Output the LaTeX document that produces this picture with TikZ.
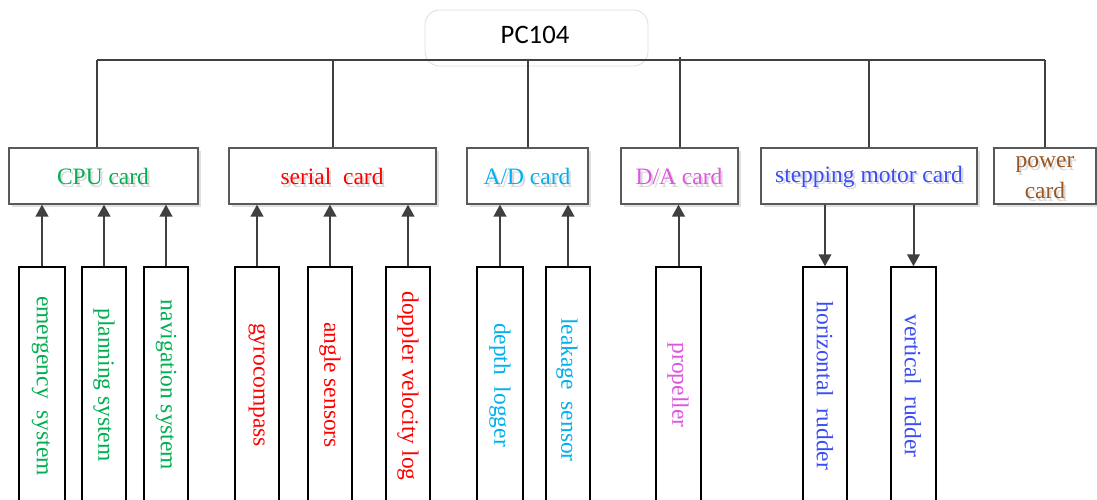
\documentclass[tikz,border=0pt]{standalone}
\usepackage{fontspec}
\setmainfont{Liberation Serif}
\newfontfamily\pcfont{Carlito}
\usetikzlibrary{fit,shadows,arrows.meta}
\definecolor{cgreen}{HTML}{00B050}
\definecolor{cred}{HTML}{FF0000}
\definecolor{ccyan}{HTML}{00B0F0}
\definecolor{cmag}{HTML}{E055E0}
\definecolor{cblue}{HTML}{3A4DF5}
\definecolor{cbrown}{HTML}{9B5520}
\definecolor{lineg}{HTML}{404040}
\newcommand\shtxt[2]{\makebox[0pt][l]{\hspace{1.6pt}\raisebox{-1.6pt}{\color{black!15}#2}}{\color{#1}#2}}
\begin{document}
\begin{tikzpicture}[x=0.75pt,y=-0.75pt,
  cardbox/.style={draw=black!65, line width=0.9pt, fill=white, inner sep=0pt,
    drop shadow={shadow xshift=2.2pt, shadow yshift=-2.2pt, fill=black!12, opacity=1}},
  devbox/.style={draw=black, line width=1.1pt, fill=white, inner sep=0pt},
  lbl/.style={font=\fontsize{17.6}{20}\selectfont, inner sep=0pt},
  vlbl/.style={lbl, rotate=-90},
  conn/.style={draw=lineg, line width=1.5pt},
  arr/.style={conn, -{Triangle[length=9pt,width=9.5pt]}}]
\useasboundingbox (0,0) rectangle (1097,500);
\clip (0,0) rectangle (1097,500);
\fill[white] (0,0) rectangle (1097,500);

% PC104
\node[draw=black!13, line width=0.6pt, rounded corners=11pt, inner sep=0pt, fit={(425,10) (648,66)}] (pc) {};
\node[font=\pcfont\fontsize{20}{24}\selectfont, inner sep=0pt] (pcT) at (535,35) {PC104};

% cards
\node[cardbox, fit={(9,148) (198,204)}] (cpu) {};
\node[cardbox, fit={(229,148) (436,204)}] (ser) {};
\node[cardbox, fit={(467,148) (588,204)}] (ad) {};
\node[cardbox, fit={(621,148) (738,204)}] (da) {};
\node[cardbox, fit={(761,148) (977,204)}] (stp) {};
\node[cardbox, fit={(994,148) (1096,204)}] (pwr) {};

\node[lbl] (cpuT) at (103,178) {\shtxt{cgreen}{CPU card}};
\node[lbl] (serT) at (332,178) {\shtxt{cred}{serial\ \ card}};
\node[lbl] (adT) at (527,178) {\shtxt{ccyan}{A/D card}};
\node[lbl] (daT) at (679,178) {\shtxt{cmag}{D/A card}};
\node[lbl] (stpT) at (869,178) {\shtxt{cblue}{stepping motor card}};
\node[lbl] (pwrT1) at (1045,166) {\shtxt{cbrown}{power}};
\node[lbl] (pwrT2) at (1045,192) {\shtxt{cbrown}{card}};

% bus
\coordinate (busL) at (97,60);
\coordinate (busR) at (pwr.north |- busL);
\draw[conn] (busL) -- (busR);
\draw[conn] (busL) -- (busL |- cpu.north);
\draw[conn] (ser.north |- busL) -- (ser.north);
\draw[conn] (ad.north |- busL) -- (ad.north);
\draw[conn] ([yshift=2.5pt]da.north |- busL) -- (da.north);
\draw[conn] (stp.north |- busL) -- (stp.north);
\draw[conn] (busR) -- (pwr.north);

% devices
\node[devbox, fit={(19,267) (65,510)}] (em) {};
\node[devbox, fit={(82,267) (126,510)}] (pl) {};
\node[devbox, fit={(144,267) (188,510)}] (nav) {};
\node[devbox, fit={(235,267) (279,510)}] (gy) {};
\node[devbox, fit={(308,267) (352,510)}] (ang) {};
\node[devbox, fit={(386,267) (430,510)}] (dop) {};
\node[devbox, fit={(477,267) (523,510)}] (dep) {};
\node[devbox, fit={(546,267) (590,510)}] (lk) {};
\node[devbox, fit={(656,267) (701,510)}] (prop) {};
\node[devbox, fit={(803,267) (847,510)}] (hor) {};
\node[devbox, fit={(891,267) (936,510)}] (ver) {};

\node[vlbl, text=cgreen] (emT) at (41,386) {emergency\ \ system};
\node[vlbl, text=cgreen] (plT) at (104,385) {planning system};
\node[vlbl, text=cgreen] (navT) at (166,385) {navigation system};
\node[vlbl, text=cred] (gyT) at (257,385) {gyrocompass};
\node[vlbl, text=cred] (angT) at (330,385) {angle sensors};
\node[vlbl, text=cred] (dopT) at (408,386) {doppler velocity log};
\node[vlbl, text=ccyan] (depT) at (500,385) {depth\ \ logger};
\node[vlbl, text=ccyan] (lkT) at (567,390) {leakage\ \ sensor};
\node[vlbl, text=cmag] (propT) at (678,385) {propeller};
\node[vlbl, text=cblue] (horT) at (825,386) {horizontal\ \ rudder};
\node[vlbl, text=cblue] (verT) at (913,386) {vertical\ \ rudder};

% arrows
\draw[arr] (em.north) -- (em.north |- cpu.south);
\draw[arr] (pl.north) -- (pl.north |- cpu.south);
\draw[arr] (nav.north) -- (nav.north |- cpu.south);
\draw[arr] (gy.north) -- (gy.north |- ser.south);
\draw[arr] (ang.north) -- (ang.north |- ser.south);
\draw[arr] (dop.north) -- (dop.north |- ser.south);
\draw[arr] (dep.north) -- (dep.north |- ad.south);
\draw[arr] (lk.north) -- (lk.north |- ad.south);
\draw[arr] (prop.north) -- (prop.north |- da.south);
\draw[arr] (hor.north |- stp.south) -- (hor.north);
\draw[arr] (ver.north |- stp.south) -- (ver.north);
\end{tikzpicture}
\end{document}
